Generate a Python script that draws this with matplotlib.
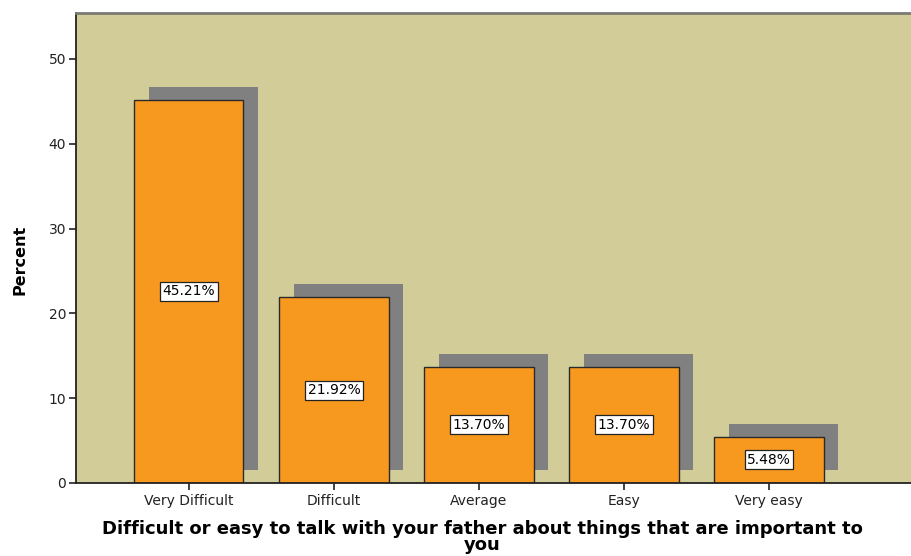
import matplotlib
matplotlib.use("Agg")
import matplotlib.pyplot as plt
import numpy as np

categories = ["Very Difficult", "Difficult", "Average", "Easy", "Very easy"]
percent = [45.21, 21.92, 13.70, 13.70, 5.48]
labels = ["45.21%", "21.92%", "13.70%", "13.70%", "5.48%"]
yticks = [0, 10, 20, 30, 40, 50]

fig = plt.figure(figsize=(9.12, 5.56), dpi=100)
ax = fig.add_axes([76/912, 1-483/556, 1-76/912, (483-13)/556])
ax.set_facecolor("#D2CD98")

x = np.arange(len(categories))
w = 0.752
dx, dy = 0.103, 1.5
# shadows
ax.bar(x + dx, percent, width=w, bottom=dy, color="#808080", edgecolor="none", zorder=1)
ax.bar(x, percent, width=w, color="#F7991E", edgecolor="#2a2a2a", linewidth=1.0, zorder=2)

for xi, v, lab in zip(x, percent, labels):
    ax.text(xi, v/2, lab, ha="center", va="center", fontsize=10,
            family="DejaVu Sans", color="black", zorder=3,
            bbox=dict(boxstyle="square,pad=0.18", facecolor="white", edgecolor="#222222", linewidth=0.9))

ax.set_xlim(-0.779, 4.986)
ax.set_ylim(0, 55.42)
ax.set_yticks(yticks)
ax.set_yticklabels([str(t) for t in yticks], fontsize=10, family="DejaVu Sans", color="#222222")
ax.set_xticks(x)
ax.set_xticklabels(categories, fontsize=10, family="DejaVu Sans", color="#222222")
ax.tick_params(axis="both", length=5, width=1.2, color="#222222")
ax.tick_params(axis="x", pad=3)
ax.tick_params(axis="y", pad=2)

for s in ["left", "bottom"]:
    ax.spines[s].set_color("#222222")
    ax.spines[s].set_linewidth(1.3)
ax.spines["top"].set_color("#7a7a72")
ax.spines["top"].set_linewidth(2)
ax.spines["right"].set_visible(False)

fig.text(20/912, 1-260/556, "Percent", rotation=90, ha="center", va="center",
         fontsize=11.5, fontweight="bold", family="DejaVu Sans")
fig.text(482/912, 1-537/556,
         "Difficult or easy to talk with your father about things that are important to\nyou",
         ha="center", va="center", fontsize=13, fontweight="bold", family="DejaVu Sans",
         linespacing=0.9)

fig.savefig("out.png", dpi=100)
